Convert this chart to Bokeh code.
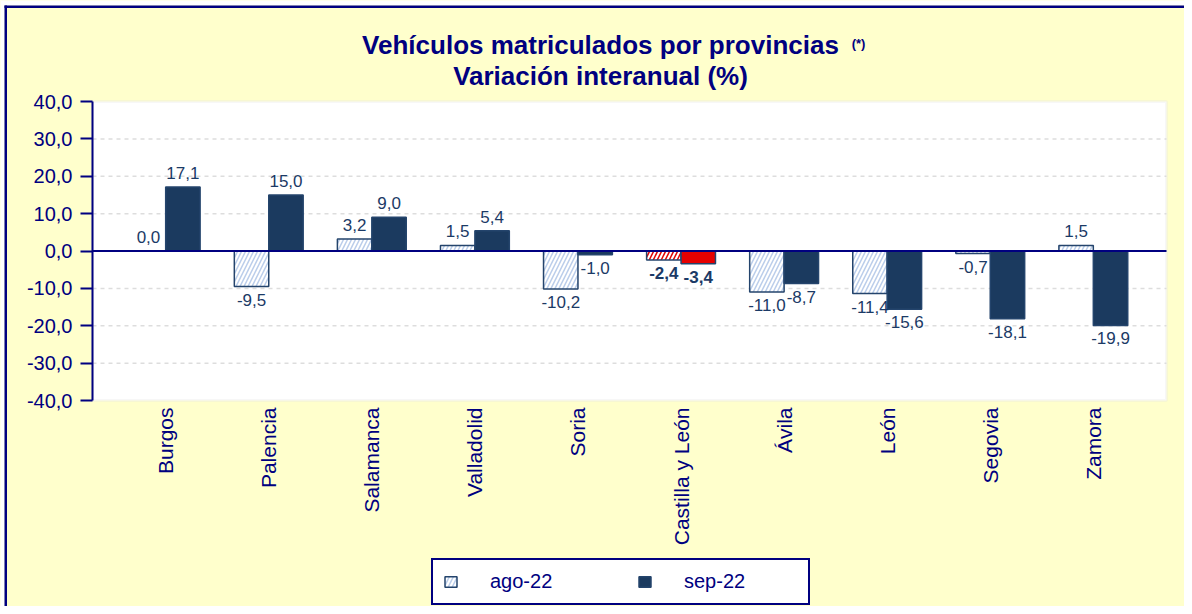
import math
from bokeh.plotting import figure
from bokeh.models import (ColumnDataSource, Label, Legend, LegendItem, FixedTicker, Range1d,
                          BoxAnnotation)
from bokeh.core.properties import value, field
from bokeh.embed import file_html
from bokeh.resources import INLINE

# ---- data ----
provincias = ["Burgos", "Palencia", "Salamanca", "Valladolid", "Soria",
              "Castilla y León", "Ávila", "León", "Segovia", "Zamora"]
ago_22 = [0.0, -9.5, 3.2, 1.5, -10.2, -2.4, -11.0, -11.4, -0.7, 1.5]
sep_22 = [17.1, 15.0, 9.0, 5.4, -1.0, -3.4, -8.7, -15.6, -18.1, -19.9]
series_names = ["ago-22", "sep-22"]
y_ticks = [-40, -30, -20, -10, 0, 10, 20, 30, 40]
y_tick_labels = ["-40,0", "-30,0", "-20,0", "-10,0", "0,0", "10,0", "20,0", "30,0", "40,0"]
y_min, y_max = -40, 40
title_1 = "Vehículos matriculados por provincias"
title_note = "(*)"
title_2 = "Variación interanual (%)"
highlight = "Castilla y León"

# ---- styles / layout ----
FONT = "Liberation Sans"
NAVY = "#000080"
DARK = "#1B3A5F"
EDGE = "#24446C"
RED = "#E60000"
HATCH_BLUE = "#BACDEA"
LABEL_COL = "#1B3A66"
BG = "#FFFFCC"

W, H = 1184, 606
PLOT_LEFT, PLOT_RIGHT, PLOT_TOP, PLOT_BOTTOM = 92, 1166, 101, 400
PAD = 0.21           # category padding at both ends of the plot area
BAR_W = 0.334

n = len(provincias)
xs = list(range(n))
x_lo, x_hi = -0.5 - PAD, n - 0.5 + PAD
ppx = (PLOT_RIGHT - PLOT_LEFT) / (x_hi - x_lo)
ppy = (PLOT_BOTTOM - PLOT_TOP) / (y_max - y_min)
# the frame covers the whole canvas; the plot area is drawn inside it
x_range = Range1d(x_lo - PLOT_LEFT / ppx, x_hi + (W - PLOT_RIGHT) / ppx)
y_range = Range1d(y_min - (H - PLOT_BOTTOM) / ppy, y_max + PLOT_TOP / ppy)

p = figure(width=W, height=H, output_backend="svg", toolbar_location=None,
           x_range=x_range, y_range=y_range,
           min_border=0, min_border_left=0, min_border_right=0,
           min_border_top=0, min_border_bottom=0)
p.border_fill_color = BG
p.background_fill_color = BG
p.outline_line_color = None
p.xgrid.visible = False
p.ygrid.visible = False

# white plot area with light grey border
p.add_layout(BoxAnnotation(left=x_lo, right=x_hi, bottom=y_min, top=y_max,
                           fill_color="white", fill_alpha=1,
                           line_color="#E3E3E3", line_width=3, level="image"))

# y axis
p.yaxis.fixed_location = x_lo
p.yaxis.bounds = (y_min, y_max)
p.yaxis.ticker = FixedTicker(ticks=y_ticks)
p.yaxis.major_label_overrides = dict(zip(y_ticks, y_tick_labels))
p.yaxis.axis_line_color = NAVY
p.yaxis.axis_line_width = 2
p.yaxis.major_tick_line_color = NAVY
p.yaxis.major_tick_line_width = 2
p.yaxis.major_tick_out = 12
p.yaxis.major_tick_in = 0
p.yaxis.minor_tick_line_color = None
p.yaxis.major_label_text_color = NAVY
p.yaxis.major_label_text_font = FONT
p.yaxis.major_label_text_font_size = "20px"
p.yaxis.major_label_standoff = 8

# x axis (category names)
p.xaxis.fixed_location = y_min
p.xaxis.ticker = FixedTicker(ticks=xs)
p.xaxis.major_label_overrides = dict(zip(xs, provincias))
p.xaxis.axis_line_color = None
p.xaxis.major_tick_line_color = None
p.xaxis.minor_tick_line_color = None
p.xaxis.major_tick_out = 0
p.xaxis.major_tick_in = 0
p.xaxis.major_label_orientation = math.pi / 2
p.xaxis.major_label_text_color = NAVY
p.xaxis.major_label_text_font = FONT
p.xaxis.major_label_text_font_size = "21px"
p.xaxis.major_label_standoff = 7

# dashed horizontal grid lines inside the plot area
grid_vals = [t for t in y_ticks if t not in (0, y_min, y_max)]
p.segment(x0=[x_lo] * len(grid_vals), x1=[x_hi] * len(grid_vals), y0=grid_vals, y1=grid_vals,
          line_color="#DDDDDD", line_width=1.5, line_dash="4 4")

# bars
ago_hatch = [("#E00000" if c == highlight else HATCH_BLUE) for c in provincias]
sep_fill = [(RED if c == highlight else DARK) for c in provincias]
src_ago = ColumnDataSource(dict(x=[i - BAR_W / 2 for i in xs], val=ago_22, hatch=ago_hatch))
src_sep = ColumnDataSource(dict(x=[i + BAR_W / 2 for i in xs], val=sep_22, fill=sep_fill))

r_ago = p.vbar(x="x", top="val", bottom=0, width=BAR_W, source=src_ago,
               fill_color="white", hatch_pattern="/", hatch_color=field("hatch"),
               hatch_scale=8, hatch_weight=1.5, line_color=EDGE, line_width=1.5)
r_sep = p.vbar(x="x", top="val", bottom=0, width=BAR_W, source=src_sep,
               fill_color=field("fill"), line_color=EDGE, line_width=1.5)

# zero line
p.segment(x0=[x_lo], x1=[x_hi], y0=[0], y1=[0], line_color=NAVY, line_width=2)


def fmt(v):
    return f"{v:.1f}".replace(".", ",")


for vals, src_bars in ((ago_22, src_ago), (sep_22, src_sep)):
    src = ColumnDataSource(dict(
        x=src_bars.data["x"], val=vals, txt=[fmt(v) for v in vals],
        base=["bottom" if v >= 0 else "top" for v in vals],
        yoff=[-8 if v >= 0 else 7 for v in vals],
        style=["bold" if c == highlight else "normal" for c in provincias]))
    p.text(x="x", y="val", text="txt", source=src,
           text_align="center", text_baseline=field("base"), y_offset=field("yoff"),
           text_font=value(FONT), text_font_size="17px", text_color=LABEL_COL,
           text_font_style=field("style"))

# titles (screen units, from the bottom-left corner)
p.add_layout(Label(x=600, y=H - 44, x_units="screen", y_units="screen",
                   text=title_1, text_align="center", text_baseline="middle",
                   text_font=FONT, text_font_size="26px", text_font_style="bold",
                   text_color=NAVY))
p.add_layout(Label(x=858, y=H - 43, x_units="screen", y_units="screen",
                   text=title_note, text_align="center", text_baseline="middle",
                   text_font=FONT, text_font_size="13px", text_font_style="bold",
                   text_color=NAVY))
p.add_layout(Label(x=600, y=H - 75, x_units="screen", y_units="screen",
                   text=title_2, text_align="center", text_baseline="middle",
                   text_font=FONT, text_font_size="26px", text_font_style="bold",
                   text_color=NAVY))

# outer white margin and navy border (top and left)
for box in (dict(left=0, right=4, top=H, bottom=0, color="white"),
            dict(left=0, right=W, top=H, bottom=H - 5, color="white"),
            dict(left=4, right=W, top=H - 5, bottom=H - 7.5, color=NAVY),
            dict(left=4, right=6.5, top=H - 5, bottom=0, color=NAVY)):
    p.add_layout(BoxAnnotation(left=box["left"], right=box["right"], top=box["top"],
                               bottom=box["bottom"], left_units="screen", right_units="screen",
                               top_units="screen", bottom_units="screen",
                               fill_color=box["color"], fill_alpha=1, line_color=None))

# legend
legend = Legend(items=[LegendItem(label=series_names[0], renderers=[r_ago]),
                       LegendItem(label=series_names[1], renderers=[r_sep])],
                orientation="horizontal", location=(431, 1),
                border_line_color=NAVY, border_line_width=2, border_line_alpha=1,
                background_fill_color="white", background_fill_alpha=1,
                padding=10, spacing=33, label_standoff=32, glyph_width=15, glyph_height=13,
                label_width=114, label_text_font=FONT, label_text_font_size="20px",
                label_text_color=NAVY, margin=0)
p.add_layout(legend, "center")

open("out.html", "w").write(file_html(p, INLINE))
